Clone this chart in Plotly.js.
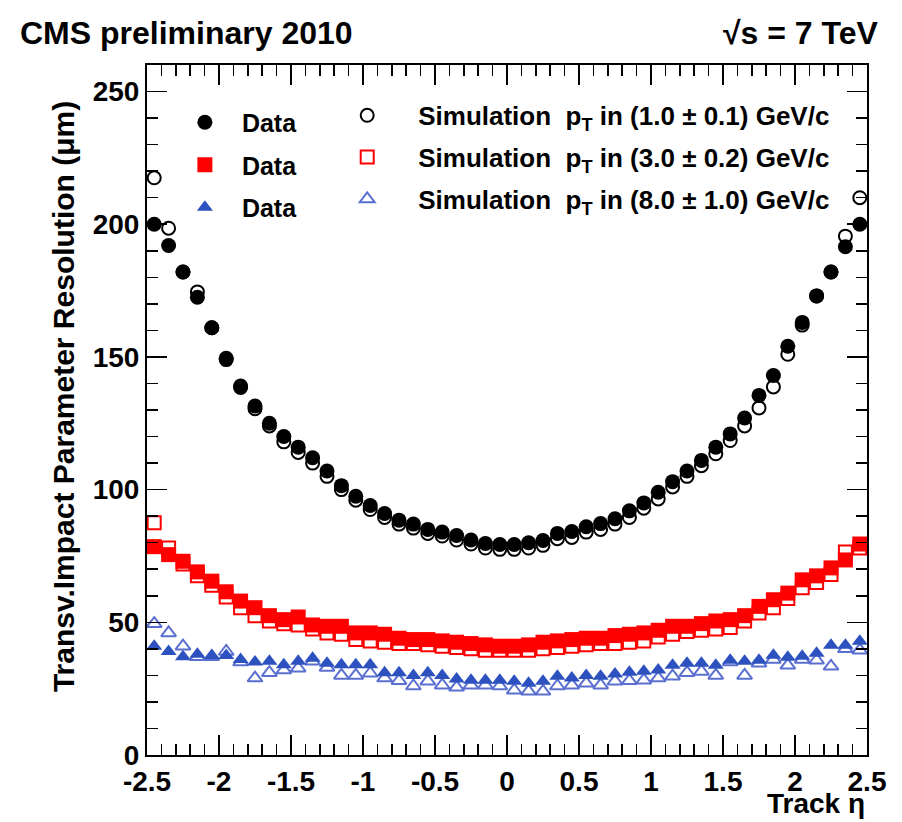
<!DOCTYPE html>
<html>
<head>
<meta charset="utf-8">
<script src="https://cdn.plot.ly/plotly-3.0.1.min.js"></script>
<style>html,body{margin:0;padding:0;background:#fff;}#chart{width:902px;height:822px;}</style>
</head>
<body>
<div id="chart"></div>
<script>
const eta = [-2.45,-2.35,-2.25,-2.15,-2.05,-1.95,-1.85,-1.75,-1.65,-1.55,-1.45,-1.35,-1.25,-1.15,-1.05,-0.95,-0.85,-0.75,-0.65,-0.55,-0.45,-0.35,-0.25,-0.15,-0.05,0.05,0.15,0.25,0.35,0.45,0.55,0.65,0.75,0.85,0.95,1.05,1.15,1.25,1.35,1.45,1.55,1.65,1.75,1.85,1.95,2.05,2.15,2.25,2.35,2.45];

const data1 = [200,192,182,172.5,161,149.5,139,131.5,125,120,116,112,107,101.5,97.5,94,91,88.5,87,85,84,82.7,81,79.7,79.3,79.3,80,80.8,83.5,84.2,86,87.2,89,92,95,99,103,107,111,116,121,127,135.5,143,154,163,173,182,191.5,200];
const sim1  = [217.5,198.5,182,174.5,161,149,138.5,130.5,124,118,114,110,105,100,96,92.5,89.5,87,85.5,83.5,82.5,81,79.5,78,77.5,77.5,78,79,81.5,82,84,85,87,89.5,93,96.5,101,105,109,113.5,118.5,124,130.8,138.7,151,162,173,182,195.5,210];

const data3 = [78.5,75.5,73,69,65.5,61.5,58,55.5,52.5,51,52,49,48.5,48.5,46,46,45.5,44,43.5,43.5,43,42.5,42,41.5,41,41,41.5,42.5,43,43.5,44,44,45,45.5,46,47,48.5,48.5,49.5,50.5,51,52.5,56,58.5,61,66,67.5,70.5,73.5,79.5];
const sim3  = [87.5,78,72,67.5,64,59.5,55.5,52.5,50.5,49.5,49,47.5,46,45.5,43.5,43,42.5,42,42,41.5,41,40.5,40,39.5,39.5,39.5,39.5,40,40.5,41,41.5,42,42,42.5,43,44.5,45.5,46.5,47,47.5,48,50.5,53.5,55.5,59,63,65,68,76.5,78];

const data8 = [41,39,37,38,37.5,37.5,36,35,35.3,34,35.3,36.5,34.6,34,34,34,31,31,30,31,30,28.6,28.2,28.2,28.2,27.8,27,27.8,29.7,29,30,29.7,30.5,31.2,31.6,32,33.8,34.6,34.6,33.8,35.7,35.3,35.7,37.6,36.8,37.2,38.3,41.4,41.4,42.9];
const sim8  = [49.5,46,41,37,37,39,35,29,31,32,32.7,35.3,33,30,30,30.8,29,28,26,27.8,26.3,25.5,26.3,26.3,26,24.4,24,24,26,26.3,27,26.3,27.8,28,28.2,29,29.7,31,31.5,30,35,30,34.6,36,33.8,36,35.7,33.4,40,39.5];

const xTickVals = [-2.5,-2,-1.5,-1,-0.5,0,0.5,1,1.5,2,2.5];
const xTickText = ['-2.5','-2','-1.5','-1','-0.5','0','0.5','1','1.5','2','2.5'];
const yTickVals = [0,50,100,150,200,250];
const yTickText = ['0','50','100','150','200','250'];

const simLabels = [
  'Simulation  p<sub>T</sub> in (1.0 ± 0.1) GeV/c',
  'Simulation  p<sub>T</sub> in (3.0 ± 0.2) GeV/c',
  'Simulation  p<sub>T</sub> in (8.0 ± 1.0) GeV/c'
];

const F = 'Liberation Sans, Arial, Helvetica, sans-serif';
const BLUE = '#2d52c0';
const BLUE_OPEN = '#5a6fd0';

const traces = [
  {x: eta, y: sim1, mode:'markers', name: simLabels[0], legend:'legend2', legendgroup:'s1',
   marker:{symbol:'circle-open', color:'#000', size:13, line:{width:2, color:'#000'}}},
  {x: eta, y: sim3, mode:'markers', name: simLabels[1], legend:'legend2', legendgroup:'s2',
   marker:{symbol:'square-open', color:'#ff0000', size:13, line:{width:2, color:'#ff0000'}}},
  {x: eta, y: sim8, mode:'markers', name: simLabels[2], legend:'legend2', legendgroup:'s3',
   marker:{symbol:'triangle-up-open', color:BLUE_OPEN, size:13, line:{width:2, color:BLUE_OPEN}}},
  {x: eta, y: data1, mode:'markers', name:'Data', legend:'legend', legendgroup:'d1',
   marker:{symbol:'circle', color:'#000', size:15, line:{width:0}}},
  {x: eta, y: data3, mode:'markers', name:'Data', legend:'legend', legendgroup:'d2',
   marker:{symbol:'square', color:'#ff0000', size:15, line:{width:0}}},
  {x: eta, y: data8, mode:'markers', name:'Data', legend:'legend', legendgroup:'d3',
   marker:{symbol:'triangle-up', color:BLUE, size:14, line:{width:0}}}
];

const axisCommon = {
  showline:true, linecolor:'#000', linewidth:2, mirror:'ticks',
  ticks:'inside', tickcolor:'#000', tickwidth:1.5, ticklen:20,
  showgrid:false, zeroline:false,
  tickfont:{family:F, size:28, color:'#000', weight:'bold'}
};

const layout = {
  width:902, height:822,
  margin:{l:147, r:35, t:65, b:67},
  paper_bgcolor:'#fff', plot_bgcolor:'#fff',
  showlegend:true,
  xaxis: Object.assign({}, axisCommon, {
    range:[-2.5,2.5], tickmode:'array', tickvals:xTickVals, ticktext:xTickText,
    minor:{dtick:0.1, ticks:'inside', ticklen:11, tickwidth:1.5, tickcolor:'#000', showgrid:false}
  }),
  yaxis: Object.assign({}, axisCommon, {
    range:[0,260], tickmode:'array', tickvals:yTickVals, ticktext:yTickText,
    minor:{dtick:10, ticks:'inside', ticklen:11, tickwidth:1.5, tickcolor:'#000', showgrid:false}
  }),
  legend:{x:0.029, y:0.95, xanchor:'left', yanchor:'top', bgcolor:'rgba(0,0,0,0)',
    font:{family:F, size:25, color:'#000', weight:'bold'}, traceorder:'grouped', tracegroupgap:7, itemwidth:64},
  legend2:{x:0.235, y:0.961, xanchor:'left', yanchor:'top', bgcolor:'rgba(0,0,0,0)',
    font:{family:F, size:26, color:'#000', weight:'bold'}, traceorder:'grouped', tracegroupgap:5, itemwidth:92},
  annotations:[
    {text:'CMS preliminary 2010', xref:'paper', yref:'paper', x:-0.179, y:1.046, xanchor:'left', yanchor:'middle',
     showarrow:false, font:{family:F, size:32, color:'#000', weight:'bold'}},
    {text:'√s = 7 TeV', xref:'paper', yref:'paper', x:1.018, y:1.046, xanchor:'right', yanchor:'middle',
     showarrow:false, font:{family:F, size:32, color:'#000', weight:'bold'}},
    {text:'Track η', xref:'paper', yref:'paper', x:1.0, y:-0.071, xanchor:'right', yanchor:'middle',
     showarrow:false, font:{family:F, size:28, color:'#000', weight:'bold'}},
    {text:'Transv.Impact Parameter Resolution (μm)', xref:'paper', yref:'paper', x:-0.115, y:0.519, textangle:-90,
     xanchor:'center', yanchor:'middle', showarrow:false, font:{family:F, size:30, color:'#000', weight:'bold'}}
  ]
};

Plotly.newPlot('chart', traces, layout, {displayModeBar:false, staticPlot:true});
</script>
</body>
</html>
